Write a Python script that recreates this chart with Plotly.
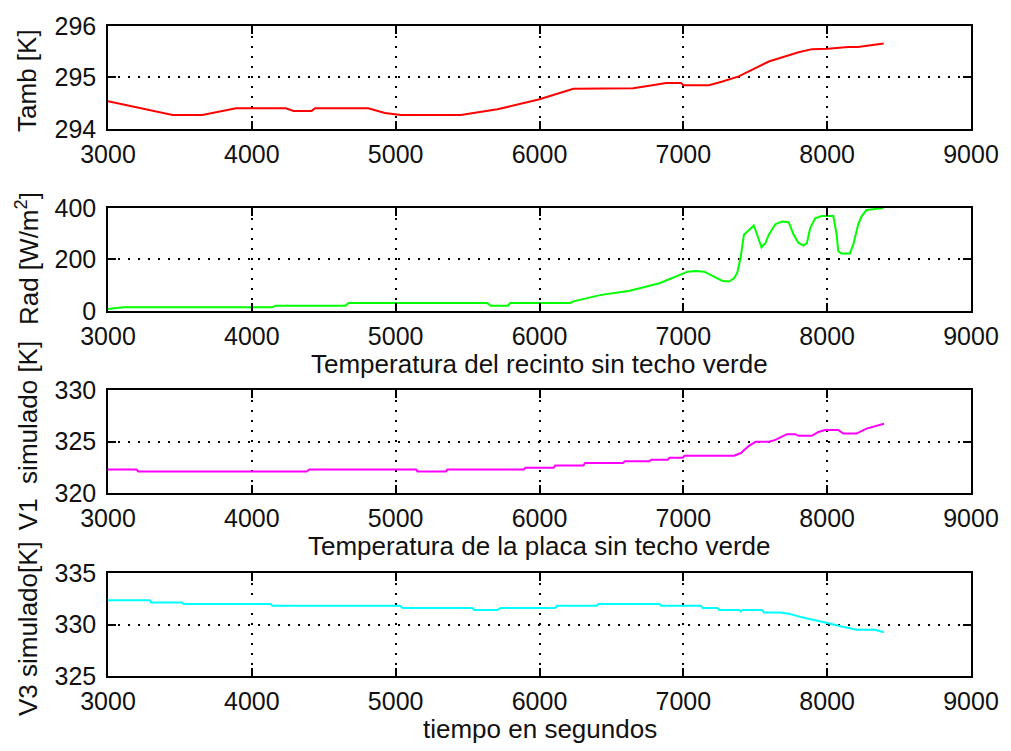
import plotly.graph_objects as go

# Ambient temperature [K] vs time [s]
t_amb = [3000, 3170, 3300, 3449, 3656, 3890, 4236, 4290, 4416, 4440, 4809, 4925, 5037,
         5453, 5707, 5994, 6236, 6650, 6763, 6880, 6984, 7000, 7178, 7272, 7385, 7594,
         7801, 7894, 8006, 8145, 8214, 8330, 8393]
tamb = [294.54, 294.44, 294.36, 294.27, 294.27, 294.40, 294.40, 294.35, 294.35, 294.40,
        294.40, 294.31, 294.27, 294.27, 294.38, 294.57, 294.78, 294.79, 294.84, 294.89,
        294.89, 294.85, 294.85, 294.92, 295.02, 295.31, 295.49, 295.55, 295.56, 295.59,
        295.59, 295.63, 295.66]

# Solar radiation [W/m2]
t_rad = [3000, 3106, 4141, 4164, 4650, 4673, 5637, 5660, 5780, 5797, 6213, 6236, 6420,
         6627, 6834, 6995, 7030, 7088, 7145, 7203, 7272, 7318, 7352, 7375, 7398, 7421,
         7456, 7490, 7513, 7543, 7571, 7594, 7640, 7686, 7732, 7767, 7801, 7836, 7859,
         7882, 7916, 7962, 8043, 8066, 8077, 8100, 8158, 8181, 8215, 8238, 8273, 8342,
         8390]
rad = [7.7, 14.1, 14.1, 20.5, 20.5, 30.8, 30.8, 20.5, 20.5, 30.8, 30.8, 37.2, 61.5,
       78.2, 107.7, 142.3, 152.6, 155.1, 152.6, 135.9, 116.7, 114.1, 126.9, 148.7, 206.4,
       296.2, 315.4, 332.1, 296.2, 247.4, 264.1, 296.2, 337.2, 347.4, 344.9, 296.2, 264.1,
       253.8, 264.1, 321.8, 360.3, 369.2, 369.2, 296.2, 232.1, 223.1, 223.1, 257.7, 334.6,
       366.7, 392.3, 396.2, 400]

# Simulated enclosure temperature V1 [K]
t_v1 = [3000, 3198, 3210, 4381, 4400, 5141, 5152, 5348, 5360, 5891, 5903, 6098, 6110,
        6305, 6317, 6581, 6593, 6765, 6777, 6892, 6904, 6996, 7008, 7352, 7400, 7456,
        7502, 7594, 7640, 7720, 7778, 7801, 7893, 7939, 7985, 8077, 8112, 8204, 8273,
        8331, 8395]
v1 = [322.28, 322.28, 322.09, 322.09, 322.28, 322.28, 322.09, 322.09, 322.28, 322.28,
      322.44, 322.44, 322.66, 322.66, 322.92, 322.92, 323.08, 323.08, 323.24, 323.24,
      323.43, 323.43, 323.62, 323.62, 323.88, 324.58, 324.97, 324.97, 325.16, 325.71,
      325.71, 325.55, 325.55, 325.93, 326.12, 326.12, 325.77, 325.77, 326.25, 326.51,
      326.73]

# Simulated plate temperature V3 [K]
t_v3 = [3000, 3290, 3300, 3515, 3525, 4130, 4143, 5028, 5051, 5534, 5546, 5706, 5729,
        6109, 6121, 6397, 6410, 6834, 6846, 7122, 7134, 7237, 7250, 7387, 7400, 7410,
        7548, 7560, 7675, 7744, 7824, 7916, 8008, 8100, 8204, 8331, 8395]
v3 = [332.37, 332.37, 332.15, 332.15, 331.99, 331.99, 331.83, 331.83, 331.60, 331.60,
      331.41, 331.41, 331.60, 331.60, 331.83, 331.83, 331.99, 331.99, 331.83, 331.83,
      331.60, 331.60, 331.41, 331.41, 331.28, 331.41, 331.41, 331.18, 331.18, 331.02,
      330.70, 330.45, 330.13, 329.81, 329.49, 329.49, 329.26]

x_ticks = [3000, 4000, 5000, 6000, 7000, 8000, 9000]
y_labels = ["Tamb [K]", "Rad [W/m<sup>2</sup>]", "V1  simulado [K]", "V3 simulado[K]"]
x_labels = [None, "Temperatura del recinto sin techo verde",
            "Temperatura de la placa sin techo verde", "tiempo en segundos"]

FONT = "Liberation Sans"
TXT = "#111111"

W, H = 1011, 751
ML, MR, MT, MB = 108, 34, 19, 75
plot_h = H - MT - MB


def pix_to_paper_y(py):
    return (H - MB - py) / plot_h


def pix_to_paper_x(px):
    return (px - ML) / (W - ML - MR)


# panel tops/bottoms in pixels, and vertical centre of each y label
panels = [(19, 123), (203, 307), (387, 491), (572, 676)]
ylabel_centres = [74, 254, 433, 628]
yranges = [[294, 296], [0, 400], [320, 330], [325, 335]]
ydticks = [1, 200, 5, 5]
series = [(t_amb, tamb, "#ff0000"), (t_rad, rad, "#00ff00"),
          (t_v1, v1, "#ff00ff"), (t_v3, v3, "#00ffff")]

fig = go.Figure()
layout = dict(
    width=W, height=H,
    margin=dict(l=ML, r=MR, t=MT, b=MB),
    paper_bgcolor="white", plot_bgcolor="white",
    showlegend=False,
    font=dict(family=FONT, size=25, color=TXT),
)

axis_common = dict(
    showline=True, linecolor="black", linewidth=1.5, mirror="ticks",
    ticks="inside", ticklen=8, tickwidth=1.5, tickcolor="black",
    showgrid=True, gridcolor="black", gridwidth=1.5, griddash="2px,8px",
    zeroline=False, tickfont=dict(family=FONT, size=25, color=TXT),
)

annotations = []
for i, ((top, bot), yr, dt, (xs, ys, col)) in enumerate(zip(panels, yranges, ydticks, series)):
    n = "" if i == 0 else str(i + 1)
    fig.add_trace(go.Scatter(x=xs, y=ys, mode="lines",
                             line=dict(color=col, width=2),
                             xaxis="x" + n, yaxis="y" + n, hoverinfo="skip"))
    layout["xaxis" + n] = dict(axis_common, range=[3000, 9000], tickvals=x_ticks,
                               ticklabelstandoff=2,
                               domain=[0, 1], anchor="y" + n)
    layout["yaxis" + n] = dict(axis_common, range=yr, dtick=dt,
                               ticklabelstandoff=5,
                               domain=[pix_to_paper_y(bot), pix_to_paper_y(top)],
                               anchor="x" + n)
    # y-axis label
    annotations.append(dict(text=y_labels[i], xref="paper", yref="paper",
                            x=pix_to_paper_x(27), y=pix_to_paper_y(ylabel_centres[i]),
                            xanchor="center", yanchor="middle", textangle=-90,
                            showarrow=False, font=dict(family=FONT, size=26, color=TXT)))
    # x-axis label
    if x_labels[i]:
        annotations.append(dict(text=x_labels[i], xref="paper", yref="paper",
                                x=0.5, y=pix_to_paper_y(bot + 54),
                                xanchor="center", yanchor="middle",
                                showarrow=False, font=dict(family=FONT, size=26, color=TXT)))

layout["annotations"] = annotations
fig.update_layout(**layout)
fig.write_html("out.html")
